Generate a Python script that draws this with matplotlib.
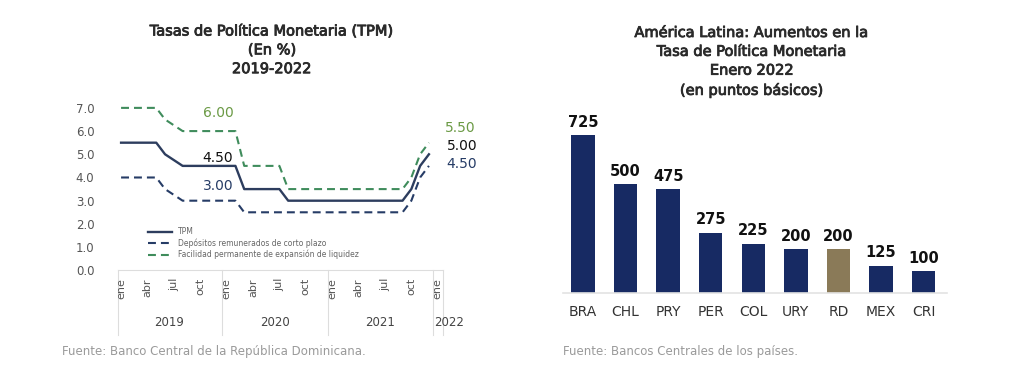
"""Tasas de Política Monetaria (TPM) y aumentos en América Latina, dos paneles."""
import matplotlib
matplotlib.use("Agg")
import matplotlib.pyplot as plt
import matplotlib.patheffects as pe
from matplotlib.transforms import blended_transform_factory

plt.rcParams["font.family"] = ["DejaVu Sans"]

# ---- datos panel izquierdo (mensual, ene-2019 a ene-2022) ----
tpm = ([5.5] * 5 + [5.0, 4.75] + [4.5] * 7 + [3.5] * 5
       + [3.0] * 14 + [3.5, 4.5, 5.0])
corredor_sup = ([7.0] * 5 + [6.5, 6.25] + [6.0] * 7 + [4.5] * 5
                + [3.5] * 14 + [4.0, 5.0, 5.5])
corredor_inf = ([4.0] * 5 + [3.5, 3.25] + [3.0] * 7 + [2.5] * 5
                + [2.5] * 14 + [3.0, 4.0, 4.5])
meses = ["ene", "abr", "jul", "oct"] * 3 + ["ene"]
anios = ["2019", "2020", "2021", "2022"]
leyenda = ["TPM", "Depósitos remunerados de corto plazo",
           "Facilidad permanente de expansión de liquidez"]

# ---- datos panel derecho ----
paises = ["BRA", "CHL", "PRY", "PER", "COL", "URY", "RD", "MEX", "CRI"]
aumentos = [725, 500, 475, 275, 225, 200, 200, 125, 100]

NAVY = "#2d3d5e"
NAVY_D = "#263c66"
GREEN = "#3f8c5c"
GREEN_T = "#6b9a45"
BAR = "#172a63"
GOLD = "#8a7a58"
GRAY = "#9a9a9a"
TXT = "#2a2a2a"
MEDIUM = [pe.withStroke(linewidth=0.6, foreground=TXT)]  # peso "medium"

fig = plt.figure(figsize=(10.24, 3.86), dpi=100)

# ================= panel izquierdo =================
ax = fig.add_axes([118 / 1024, 1 - 270.3 / 386, 325 / 1024, 171.7 / 386])
x = list(range(len(tpm)))
ax.plot(x, corredor_sup, color=GREEN, lw=1.5, dashes=(3.8, 2.4), label=leyenda[2])
ax.plot(x, tpm, color=NAVY, lw=1.7, label=leyenda[0])
ax.plot(x, corredor_inf, color=NAVY_D, lw=1.5, dashes=(3.8, 2.4), label=leyenda[1])
ax.set_xlim(-0.35, 36.6)
ax.set_ylim(0, 7.4)
ax.set_yticks([0, 1, 2, 3, 4, 5, 6, 7])
ax.set_yticklabels([f"{v:.1f}" for v in range(8)])
ax.tick_params(axis="y", length=0, pad=17, labelsize=8.5, labelcolor="#555555")
ax.set_xticks([])
for s in ["top", "right", "left"]:
    ax.spines[s].set_visible(False)
ax.spines["bottom"].set_color("#dddddd")
ax.spines["bottom"].set_linewidth(0.8)

h, l = ax.get_legend_handles_labels()
order = [1, 2, 0]
ax.legend([h[i] for i in order], [l[i] for i in order], loc="upper left",
          bbox_to_anchor=(0.07, 0.29), frameon=False, fontsize=5.5,
          handlelength=3.2, labelspacing=0.25, labelcolor="#666666")

# eje x de dos niveles
tr = blended_transform_factory(ax.transData, ax.transAxes)
bottom = -(335 - 270.3) / 171.7
for xs in [-0.35, 11.5, 23.5, 35.5, 36.6]:
    ax.plot([xs, xs], [0, bottom], transform=tr, color="#dddddd", lw=0.8,
            clip_on=False)
for i, m in enumerate(meses):
    ax.text(i * 3, -0.045, m, transform=tr, rotation=90, ha="center", va="top",
            fontsize=8, color="#555555")
for xc, a in zip([5.5, 17.5, 29.5, 37.3], anios):
    ax.text(xc, -0.305, a, transform=tr, ha="center", va="center",
            fontsize=8.5, color="#444444")

# anotaciones
ax.text(11.1, 6.78, "6.00", color=GREEN_T, fontsize=10, ha="center", va="center")
ax.text(11.0, 4.84, "4.50", color="#111111", fontsize=10, ha="center", va="center")
ax.text(11.0, 3.63, "3.00", color=NAVY_D, fontsize=10, ha="center", va="center")
ax.text(36.8, 6.13, "5.50", color=GREEN_T, fontsize=10, ha="left", va="center",
        clip_on=False)
ax.text(37.0, 5.36, "5.00", color="#111111", fontsize=10, ha="left", va="center",
        clip_on=False)
ax.text(37.0, 4.59, "4.50", color=NAVY_D, fontsize=10, ha="left", va="center",
        clip_on=False)

fig.text(272 / 1024, 1 - 23 / 386,
         "Tasas de Política Monetaria (TPM)\n(En %)\n2019-2022",
         ha="center", va="top", fontsize=10.5, color=TXT, linespacing=1.32,
         path_effects=MEDIUM)
fig.text(62 / 1024, 1 - 352 / 386,
         "Fuente: Banco Central de la República Dominicana.",
         ha="left", va="center", fontsize=8.5, color=GRAY)

# ================= panel derecho =================
bx = fig.add_axes([563 / 1024, 1 - 292.7 / 386, 384 / 1024, 174 / 386])
colors = [GOLD if p == "RD" else BAR for p in paises]
bars = bx.bar(paises, aumentos, width=0.55, color=colors)
for b, v in zip(bars, aumentos):
    bx.text(b.get_x() + b.get_width() / 2, v + 25, str(v), ha="center",
            va="bottom", fontsize=10.5, fontweight="bold", color="#111111")
bx.set_xlim(-0.47, 8.55)
bx.set_ylim(0, 800)
bx.set_yticks([])
for s in ["top", "right", "left"]:
    bx.spines[s].set_visible(False)
bx.spines["bottom"].set_color("#e3e3e3")
bx.spines["bottom"].set_linewidth(1.2)
bx.tick_params(axis="x", length=0, pad=9, labelsize=10, labelcolor="#333333")

fig.text(752 / 1024, 1 - 25 / 386,
         "América Latina: Aumentos en la\nTasa de Política Monetaria\n"
         "Enero 2022\n(en puntos básicos)",
         ha="center", va="top", fontsize=10.5, color=TXT, linespacing=1.32,
         path_effects=MEDIUM)
fig.text(563 / 1024, 1 - 352 / 386, "Fuente: Bancos Centrales de los países.",
         ha="left", va="center", fontsize=8.5, color=GRAY)

fig.savefig("out.png", dpi=100, facecolor="white")
